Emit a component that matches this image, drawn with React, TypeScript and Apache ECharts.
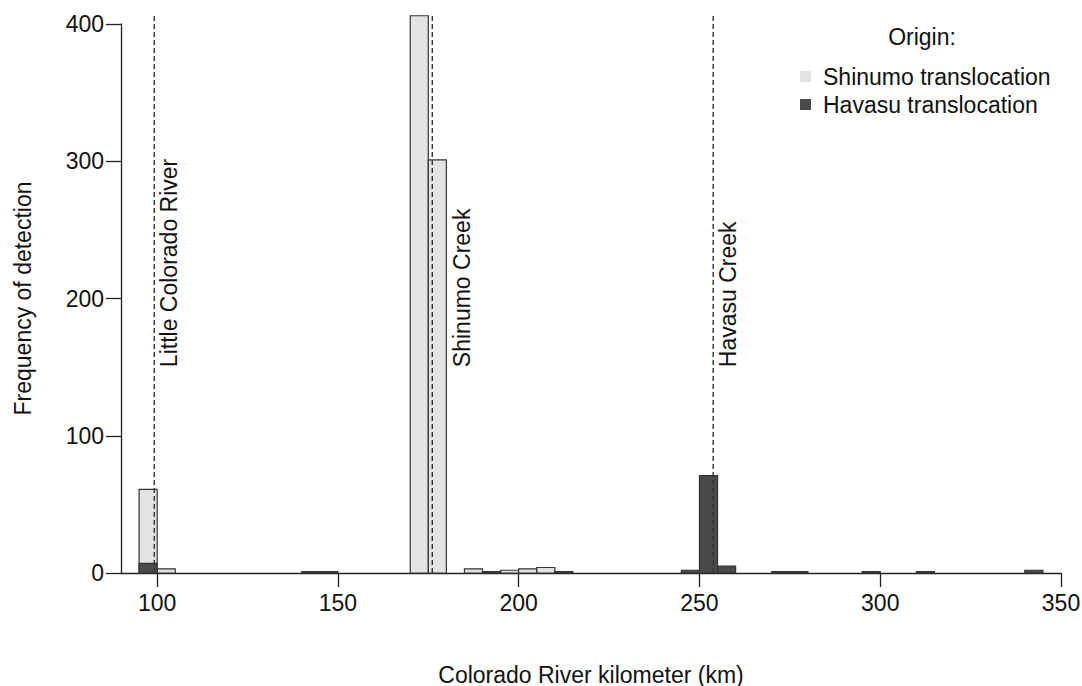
import React, { useEffect, useRef } from "react";
import * as echarts from "echarts";

// Histogram bins (start km, 5-km wide) and detection counts
const BIN_WIDTH = 5;
const shinumoBinStart = [95, 100, 170, 175, 185, 195, 200, 205];
const shinumoCounts = [61, 3, 406, 301, 3, 2, 3, 4];
const havasuBinStart = [95, 140, 145, 190, 210, 245, 250, 255, 270, 275, 295, 310, 340];
const havasuCounts = [7, 1, 1, 1, 1, 2, 71, 5, 1, 1, 1, 1, 2];

// Tributary confluences (river km) and labels
const tributaryKm = [99.2, 176.1, 253.8];
const tributaryNames = ["Little Colorado River", "Shinumo Creek", "Havasu Creek"];

const xTicks = [100, 150, 200, 250, 300, 350];
const yTicks = [0, 100, 200, 300, 400];

// styling constants
const FONT = "'Liberation Sans', Arial, Helvetica, sans-serif";
const TXT = "#111";
const LABEL_OFFSET_PX = [15, 30, 15];
const LABEL_START_VALUE = 150;
const LINE_TOP_VALUE = 408;

export default function App() {
  const ref = useRef<HTMLDivElement>(null);

  useEffect(() => {
    if (!ref.current) return;
    const chart = echarts.init(ref.current, null, { renderer: "svg" });

    const barRender = (params: any, api: any) => {
      const x0 = api.value(0);
      const v = api.value(1);
      const p0 = api.coord([x0, 0]);
      const p1 = api.coord([x0 + BIN_WIDTH, v]);
      return {
        type: "rect",
        shape: { x: p0[0], y: p1[1], width: p1[0] - p0[0], height: p0[1] - p1[1] },
        style: { fill: api.visual("color"), stroke: "#333", lineWidth: 1.2 },
      };
    };

    const annRender = (params: any, api: any) => {
      const km = api.value(0);
      const i = params.dataIndex;
      const b = api.coord([km, 0]);
      const t = api.coord([km, LINE_TOP_VALUE]);
      const l = api.coord([km, LABEL_START_VALUE]);
      return {
        type: "group",
        children: [
          {
            type: "line",
            shape: { x1: b[0], y1: b[1], x2: t[0], y2: t[1] },
            style: { stroke: "#333", lineWidth: 1.4, lineDash: [5, 3] },
          },
          {
            type: "text",
            x: l[0] + LABEL_OFFSET_PX[i],
            y: l[1],
            rotation: Math.PI / 2,
            style: {
              text: tributaryNames[i],
              fontSize: 23,
              fontFamily: FONT,
              fill: TXT,
              align: "left",
              verticalAlign: "middle",
            },
          },
        ],
      };
    };

    chart.setOption({
      animation: false,
      backgroundColor: "#fff",
      textStyle: { fontFamily: FONT },
      grid: { left: 121, right: 21, top: 24, bottom: 113, outerBoundsMode: "none", containLabel: false },
      legend: {
        orient: "vertical",
        left: 795,
        top: 60,
        itemWidth: 11,
        itemHeight: 11,
        itemGap: 5,
        icon: "rect",
        itemStyle: { borderWidth: 0 },
        textStyle: { fontSize: 23, color: TXT, fontFamily: FONT, padding: [0, 0, 0, 7] },
        data: ["Shinumo translocation", "Havasu translocation"],
      },
      graphic: [
        {
          type: "text",
          x: 922,
          y: 37,
          style: {
            text: "Origin:",
            fontSize: 23,
            fontFamily: FONT,
            fill: TXT,
            align: "center",
            verticalAlign: "middle",
          },
        },
      ],
      xAxis: {
        type: "value",
        min: 90,
        max: 350,
        name: "Colorado River kilometer (km)",
        nameLocation: "middle",
        nameGap: 90,
        nameTextStyle: { fontSize: 23, color: TXT, fontFamily: FONT },
        axisLine: { onZero: false, lineStyle: { color: "#222", width: 1.3 } },
        axisTick: { show: true, length: 14, customValues: xTicks, lineStyle: { color: "#222", width: 1.3 } },
        axisLabel: { customValues: xTicks, fontSize: 23, color: TXT, margin: 18, fontFamily: FONT },
        splitLine: { show: false },
      },
      yAxis: {
        type: "value",
        min: 0,
        max: 400,
        interval: 100,
        name: "Frequency of detection",
        nameLocation: "middle",
        nameGap: 87,
        nameRotate: 90,
        nameTextStyle: { fontSize: 23, color: TXT, fontFamily: FONT },
        axisLine: { show: true, lineStyle: { color: "#222", width: 1.3 } },
        axisTick: { show: true, length: 15, lineStyle: { color: "#222", width: 1.3 } },
        axisLabel: { fontSize: 23, color: TXT, margin: 17, fontFamily: FONT, customValues: yTicks },
        splitLine: { show: false },
      },
      series: [
        {
          name: "Shinumo translocation",
          type: "custom",
          clip: false,
          itemStyle: { color: "#e3e3e3" },
          renderItem: barRender,
          encode: { x: 0, y: 1 },
          data: shinumoBinStart.map((s, i) => [s, shinumoCounts[i]]),
        },
        {
          name: "Havasu translocation",
          type: "custom",
          clip: false,
          itemStyle: { color: "#4a4a4a" },
          renderItem: barRender,
          encode: { x: 0, y: 1 },
          data: havasuBinStart.map((s, i) => [s, havasuCounts[i]]),
        },
        {
          name: "tributaries",
          type: "custom",
          clip: false,
          silent: true,
          renderItem: annRender,
          encode: { x: 0, y: 1 },
          data: tributaryKm.map((k) => [k, 0]),
        },
      ],
    });

    return () => chart.dispose();
  }, []);

  return (
    <div
      ref={ref}
      style={{ position: "absolute", left: 0, top: 0, width: 1082, height: 686 }}
    />
  );
}
